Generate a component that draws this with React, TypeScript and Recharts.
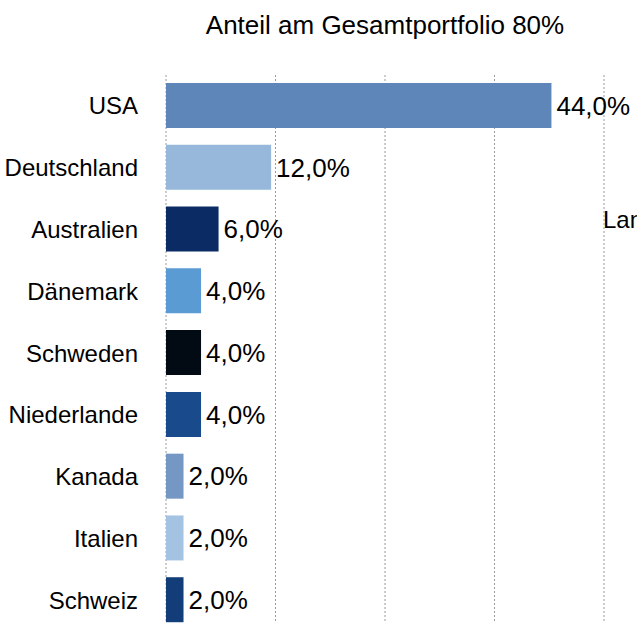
import { Bar, BarChart, CartesianGrid, Cell, LabelList, XAxis, YAxis } from "recharts";

const countries = [
  "USA",
  "Deutschland",
  "Australien",
  "Dänemark",
  "Schweden",
  "Niederlande",
  "Kanada",
  "Italien",
  "Schweiz",
];
const shares = [44, 12, 6, 4, 4, 4, 2, 2, 2];
const barColors = [
  "#5e86b8",
  "#97b8db",
  "#0a2b63",
  "#5b9bd3",
  "#020a14",
  "#184a8c",
  "#7497c4",
  "#a4c3e2",
  "#123d78",
];
const gridTicks = [0, 12.5, 25, 37.5, 50];

const data = countries.map((land, i) => ({ land, anteil: shares[i] }));
const FONT = "'Liberation Sans', Arial, Helvetica, sans-serif";
const formatPct = (value: unknown) => `${Number(value).toFixed(1).replace(".", ",")}%`;

export default function App() {
  return (
    <div style={{ position: "absolute", left: 0, top: 0, width: 637, height: 623, overflow: "hidden", fontFamily: FONT }}>
      <div
        style={{
          position: "absolute",
          left: 166,
          width: 438,
          top: 10,
          textAlign: "center",
          fontSize: 26,
          color: "#000",
          whiteSpace: "nowrap",
        }}
      >
        Anteil am Gesamtportfolio 80%
      </div>
      <div style={{ position: "absolute", left: 603, top: 206, fontSize: 24, color: "#000", whiteSpace: "nowrap" }}>
        Land
      </div>
      <BarChart
        width={637}
        height={640}
        data={data}
        layout="vertical"
        margin={{ top: 75, right: 33, bottom: 9, left: 0 }}
      >
        <CartesianGrid
          horizontal={false}
          stroke="#9a9a9a"
          strokeDasharray="2 2"
        />
        <XAxis
          type="number"
          domain={[0, 50]}
          ticks={gridTicks}
          interval={0}
          height={0}
          axisLine={false}
          tickLine={false}
          tick={{ fontSize: 1, fill: "none" }}
        />
        <YAxis
          type="category"
          dataKey="land"
          width={166}
          axisLine={false}
          tickLine={false}
          tickSize={0}
          tickMargin={28}
          tick={{ fontSize: 24, fill: "#000", fontFamily: FONT }}
        />
        <Bar dataKey="anteil" barSize={45} isAnimationActive={false}>
          {data.map((row, i) => (
            <Cell key={row.land} fill={barColors[i]} />
          ))}
          <LabelList
            dataKey="anteil"
            position="right"
            offset={5}
            formatter={formatPct}
            style={{ fontSize: 26, fill: "#000", fontFamily: FONT }}
          />
        </Bar>
      </BarChart>
    </div>
  );
}
